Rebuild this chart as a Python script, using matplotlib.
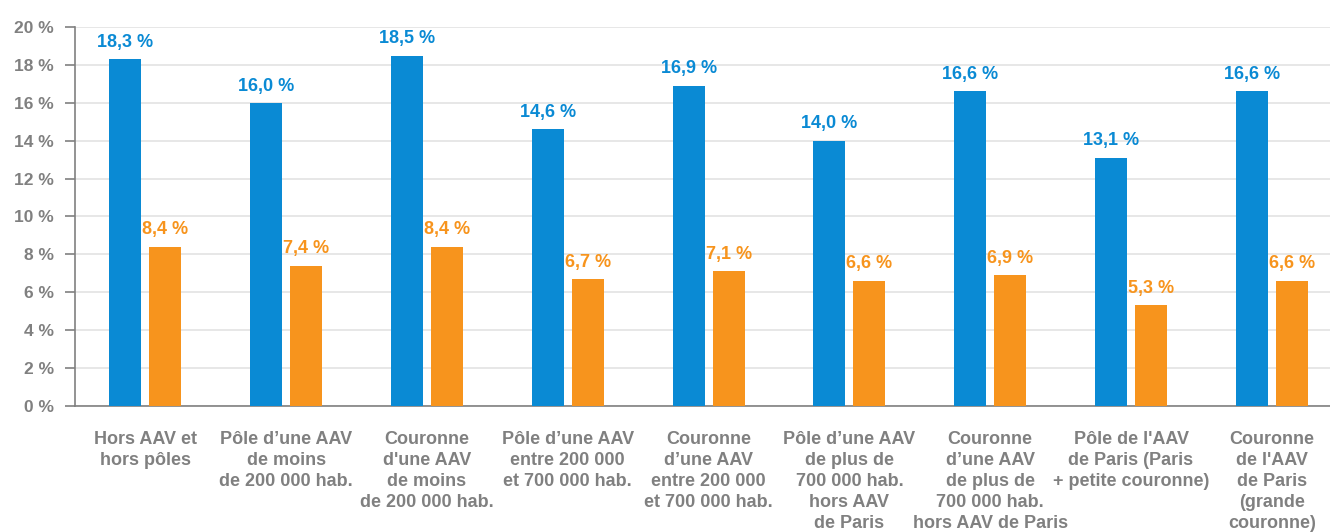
import numpy as np
import matplotlib
matplotlib.use("Agg")
import matplotlib.pyplot as plt

plt.rcParams['font.family'] = ['Liberation Sans', 'DejaVu Sans']

# données
categories = [
    "Hors AAV et\nhors pôles",
    "Pôle d’une AAV\nde moins\nde 200 000 hab.",
    "Couronne\nd'une AAV\nde moins\nde 200 000 hab.",
    "Pôle d’une AAV\nentre 200 000\net 700 000 hab.",
    "Couronne\nd’une AAV\nentre 200 000\net 700 000 hab.",
    "Pôle d’une AAV\nde plus de\n700 000 hab.\nhors AAV\nde Paris",
    "Couronne\nd’une AAV\nde plus de\n700 000 hab.\nhors AAV de Paris",
    "Pôle de l'AAV\nde Paris (Paris\n+ petite couronne)",
    "Couronne\nde l'AAV\nde Paris\n(grande\ncouronne)",
]
serie_bleue = [18.3, 16.0, 18.5, 14.6, 16.9, 14.0, 16.6, 13.1, 16.6]
serie_orange = [8.4, 7.4, 8.4, 6.7, 7.1, 6.6, 6.9, 5.3, 6.6]
yticks = [0, 2, 4, 6, 8, 10, 12, 14, 16, 18, 20]

BLEU = "#0A8AD4"
ORANGE = "#F7941D"
GRIS = "#808080"

fig = plt.figure(figsize=(13.3, 5.32), dpi=100)
ax = fig.add_axes([75 / 1330, 0.2374, (9 * 140.8) / 1330, 0.949 - 0.2374])

x = np.arange(len(categories))
w = 0.227
off = 0.142
b1 = ax.bar(x - off, serie_bleue, w, color=BLEU, zorder=3)
b2 = ax.bar(x + off, serie_orange, w, color=ORANGE, zorder=3)

for rect, v in zip(b1, serie_bleue):
    ax.annotate(f"{v:.1f} %".replace(".", ","), (rect.get_x() + rect.get_width() / 2, v),
                xytext=(0, 6), textcoords="offset points", ha="center", va="bottom",
                color=BLEU, fontsize=13, fontweight="bold")
for rect, v in zip(b2, serie_orange):
    ax.annotate(f"{v:.1f} %".replace(".", ","), (rect.get_x() + rect.get_width() / 2, v),
                xytext=(0, 6), textcoords="offset points", ha="center", va="bottom",
                color=ORANGE, fontsize=13, fontweight="bold")

ax.set_xlim(-0.5, len(categories) - 0.5)
ax.set_ylim(0, 20)
ax.set_yticks(yticks)
ax.set_yticklabels([f"{t} %" for t in yticks], color=GRIS, fontsize=12.5, fontweight="bold")
ax.set_xticks(x)
ax.set_xticklabels(categories, color=GRIS, fontsize=13, fontweight="bold",
                   va="top", ha="center", linespacing=1.32)
ax.tick_params(axis="x", length=0, pad=18)
ax.tick_params(axis="y", length=7, width=1.2, color=GRIS, pad=8)

ax.yaxis.grid(True, color="#e3e3e3", linewidth=1.2, zorder=0)
ax.set_axisbelow(True)
for s in ["top", "right"]:
    ax.spines[s].set_visible(False)
for s in ["left", "bottom"]:
    ax.spines[s].set_color(GRIS)
    ax.spines[s].set_linewidth(1.2)

fig.savefig("out.png", dpi=100)
